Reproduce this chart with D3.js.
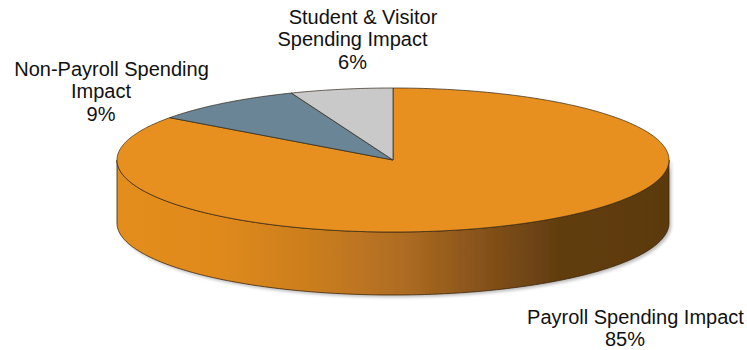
<!DOCTYPE html>
<html>
<head>
<meta charset="utf-8">
<script src="https://cdn.jsdelivr.net/npm/d3@7"></script>
<style>
  html, body { margin: 0; padding: 0; background: #fff; }
  svg { display: block; }
  .lbl { font-family: "Liberation Sans", Arial, sans-serif; font-size: 20px; fill: #111; }
</style>
</head>
<body>
<svg id="chart" width="747" height="350"></svg>
<script>
// Economic impact shares
const categories = ["Payroll Spending Impact", "Non-Payroll Spending Impact", "Student & Visitor Spending Impact"];
const shares = [85, 9, 6];
const percentLabels = ["85%", "9%", "6%"];
const labelLines = [
  ["Payroll Spending Impact"],
  ["Non-Payroll Spending", "Impact"],
  ["Student & Visitor", "Spending Impact"]
];
const sliceColors = ["#E8901F", "#6A8596", "#C9C9C9"];

// Layout of the tilted disc
const cx = 393, cy = 160, rx = 276, ry = 72, depth = 63;

const svg = d3.select("#chart");
const defs = svg.append("defs");

// Shading of the front wall, light on the left, dark on the right
const grad = defs.append("linearGradient")
  .attr("id", "wall").attr("gradientUnits", "userSpaceOnUse")
  .attr("x1", cx - rx).attr("x2", cx + rx).attr("y1", 0).attr("y2", 0);
[[0, "#E38D1F"], [0.18, "#E08A1E"], [0.36, "#CA7D1F"], [0.52, "#AE6C21"],
 [0.66, "#86521A"], [0.8, "#613D10"], [1, "#5B390E"]]
  .forEach(([o, c]) => grad.append("stop").attr("offset", o).attr("stop-color", c));

const shadow = defs.append("filter").attr("id", "shadow")
  .attr("x", "-10%").attr("y", "-10%").attr("width", "120%").attr("height", "130%");
shadow.append("feDropShadow").attr("dx", 2).attr("dy", 2).attr("stdDeviation", 1.5)
  .attr("flood-color", "#000").attr("flood-opacity", 0.25);

const pie = d3.pie().sort(null).value(d => d);
const arcs = pie(shares);

// Map an angle (0 = 12 o'clock, clockwise) onto the ellipse
const px = a => cx + rx * Math.sin(a);
const py = (a, dy = 0) => cy - ry * Math.cos(a) + dy;

function ellipseRun(a0, a1, dy = 0) {
  const n = Math.max(2, Math.ceil(Math.abs(a1 - a0) / 0.01));
  const pts = [];
  for (let i = 0; i <= n; i++) {
    const a = a0 + (a1 - a0) * i / n;
    pts.push([px(a), py(a, dy)]);
  }
  return pts;
}

const line = d3.line();
const g = svg.append("g");

// Front wall: lower half of the rim, from the right extreme round to the left
const front = ellipseRun(Math.PI / 2, 3 * Math.PI / 2)
  .concat(ellipseRun(3 * Math.PI / 2, Math.PI / 2, depth));
g.append("path")
  .attr("d", line(front) + "Z")
  .attr("fill", "url(#wall)")
  .attr("stroke", "#3a2508").attr("stroke-width", 0.8)
  .attr("filter", "url(#shadow)");

// Top face slices
g.selectAll("path.slice").data(arcs).join("path")
  .attr("class", "slice")
  .attr("d", d => line([[cx, cy]].concat(ellipseRun(d.startAngle, d.endAngle))) + "Z")
  .attr("fill", (d, i) => sliceColors[i])
  .attr("stroke", "#2e2416").attr("stroke-width", 0.7)
  .attr("stroke-linejoin", "round");

// Labels: category lines followed by the share
const labelPos = [
  { x: 625, y: 324 },
  { x: 101, y: 76 },
  { x: 352.5, y: 24 }
];
const lh = 22.3;
labelLines.forEach((lines, i) => {
  const t = svg.append("text").attr("class", "lbl").attr("text-anchor", "middle");
  lines.concat([percentLabels[i]]).forEach((s, k) => {
    t.append("tspan")
      .attr("x", labelPos[i].x + (k === 0 ? 10.5 : 0))
      .attr("y", labelPos[i].y + k * lh)
      .text(s);
  });
});
</script>
</body>
</html>
